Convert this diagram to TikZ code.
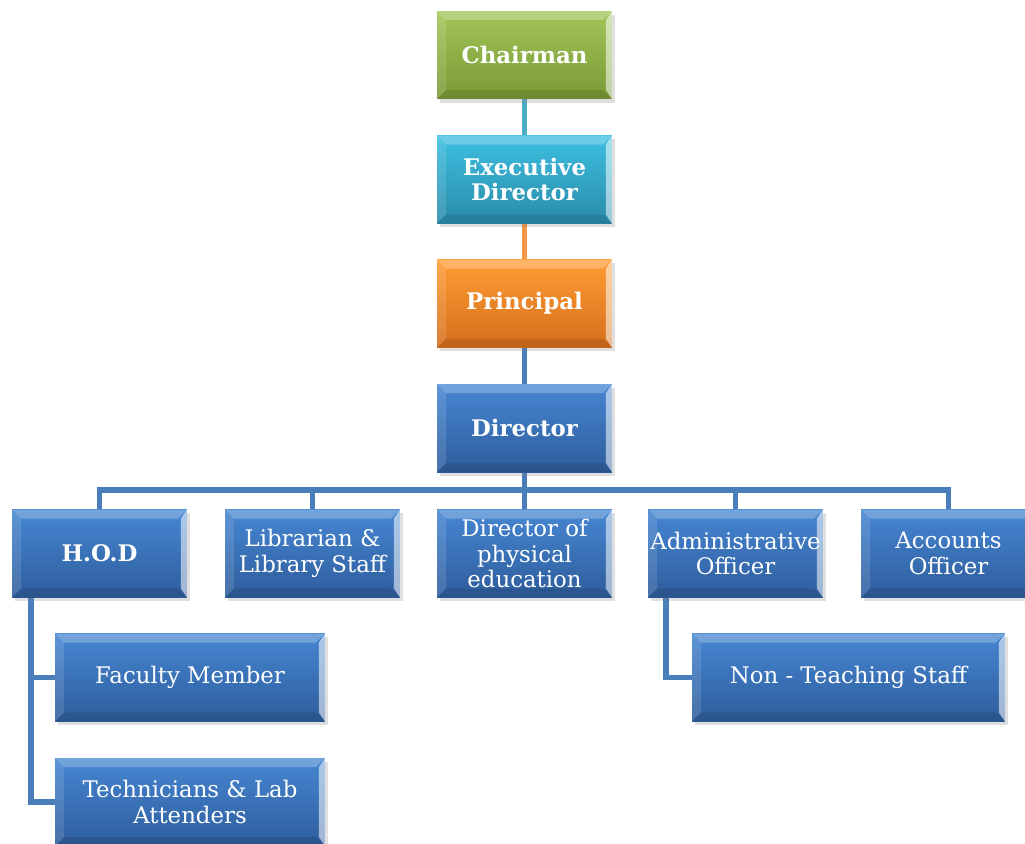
\documentclass[tikz,border=0pt]{standalone}
\usepackage{fontspec}
\setmainfont{DejaVu Serif}
\usetikzlibrary{shadows,backgrounds}
\definecolor{greenT}{HTML}{A2C557}
\definecolor{greenB}{HTML}{7A9A36}
\definecolor{tealT}{HTML}{3DBFE0}
\definecolor{tealB}{HTML}{2A8BAA}
\definecolor{orangeT}{HTML}{FF9C33}
\definecolor{orangeB}{HTML}{D56E1C}
\definecolor{blueT}{HTML}{4686D2}
\definecolor{blueB}{HTML}{2E5D9C}
\definecolor{tealline}{HTML}{4BACC6}
\definecolor{orangeline}{HTML}{F79646}
\definecolor{blueline}{HTML}{4A7EBB}
\tikzset{
  bevel/.style={path picture={
    \coordinate (bnw) at (path picture bounding box.north west);
    \coordinate (bne) at (path picture bounding box.north east);
    \coordinate (bsw) at (path picture bounding box.south west);
    \coordinate (bse) at (path picture bounding box.south east);
    \fill[white,opacity=.25](bnw)--(bne)--([shift={(-.18cm,-.18cm)}]bne)--([shift={(.18cm,-.18cm)}]bnw)--cycle;
    \fill[white,opacity=.12](bnw)--(bsw)--([shift={(.18cm,.18cm)}]bsw)--([shift={(.18cm,-.18cm)}]bnw)--cycle;
    \fill[white,opacity=.55](bne)--(bse)--([shift={(-.12cm,.18cm)}]bse)--([shift={(-.12cm,-.18cm)}]bne)--cycle;
    \fill[black,opacity=.1](bsw)--(bse)--([shift={(-.18cm,.18cm)}]bse)--([shift={(.18cm,.18cm)}]bsw)--cycle;
  }},
  box/.style={rectangle, minimum width=3.5cm, minimum height=1.76cm, inner sep=1pt,
    align=center, text=white, font=\fontsize{13}{14.5}\selectfont,
    drop shadow={shadow xshift=1.5pt, shadow yshift=-2pt, opacity=.25}, bevel},
  headbox/.style={box, font=\bfseries\fontsize{13}{14.5}\selectfont},
  greenbox/.style={top color=greenT, bottom color=greenB},
  tealbox/.style={top color=tealT, bottom color=tealB},
  orangebox/.style={top color=orangeT, bottom color=orangeB},
  bluebox/.style={top color=blueT, bottom color=blueB},
  link/.style={line width=3.3pt, draw=blueline}
}
\begin{document}
\begin{tikzpicture}[x=0.02cm,y=-0.02cm]
\useasboundingbox (0,0) rectangle (1025,843);
% top chain
\node[headbox,greenbox] (chair) at (524.5,55) {Chairman};
\node[headbox,tealbox] (exec) at (524.5,179.5) {Executive\\Director};
\node[headbox,orangebox] (prin) at (524.5,303.5) {Principal};
\node[headbox,bluebox] (dir) at (524.5,428) {Director};
% second row
\node[headbox,bluebox] (hod) at (99.5,553.5) {H.O.D};
\node[box,bluebox] (lib) at (312.5,553.5) {Librarian \&\\Library Staff};
\node[box,bluebox] (dpe) at (524.5,553.5) {Director of\\physical\\education};
\node[box,bluebox] (admin) at (735.5,553.5) {Administrative\\Officer};
\node[box,bluebox] (acc) at (948.5,553.5) {Accounts\\Officer};
% third row
\node[box,bluebox,minimum width=5.4cm] (fac) at (190,677.5) {Faculty Member};
\node[box,bluebox,minimum width=5.4cm] (tech) at (190,802) {Technicians \& Lab\\Attenders};
\node[box,bluebox,minimum width=6.26cm] (nts) at (848.5,677.5) {Non - Teaching Staff};
% connectors behind the boxes
\begin{pgfonlayer}{background}
\draw[link,draw=tealline] (chair) -- (exec);
\draw[link,draw=orangeline] (exec) -- (prin);
\draw[link] (prin) -- (dir);
\foreach \n in {hod,lib,dpe,admin,acc}
  \draw[link] (dir.south) -- ++(0,18) -| (\n.north);
\draw[link] ([xshift=.38cm]hod.south west) |- (fac.west);
\draw[link] ([xshift=.38cm]hod.south west) |- (tech.west);
\draw[link] ([xshift=.36cm]admin.south west) |- (nts.west);
\end{pgfonlayer}
\end{tikzpicture}
\end{document}
